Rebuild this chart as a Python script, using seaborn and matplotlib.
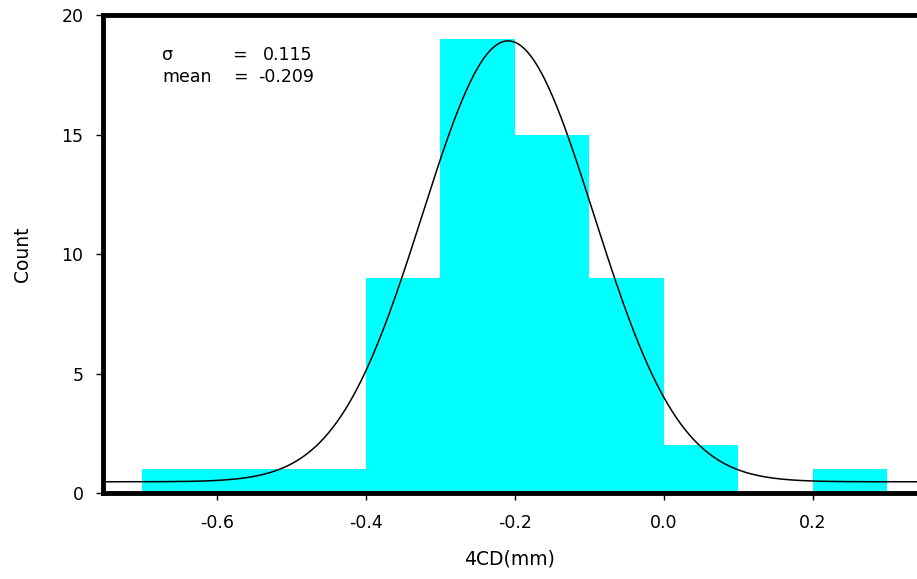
import numpy as np
import pandas as pd
import matplotlib
matplotlib.use("Agg")
import matplotlib.pyplot as plt
import seaborn as sns

# Histogram of 4CD deviations (bin width 0.1 mm)
bin_edges = [-0.7, -0.6, -0.5, -0.4, -0.3, -0.2, -0.1, 0.0, 0.1, 0.2, 0.3]
bin_counts = [1, 1, 1, 9, 19, 15, 9, 2, 0, 1]

# Fitted normal curve parameters
sigma = 0.115
mean = -0.209
curve_amplitude = 18.45
curve_offset = 0.47

x_ticks = [-0.6, -0.4, -0.2, 0.0, 0.2]
x_tick_labels = ["-0.6", "-0.4", "-0.2", "0.0", "0.2"]
y_ticks = [0, 5, 10, 15, 20]

sns.set_theme(style="white")
plt.rcParams["font.family"] = ["DejaVu Sans"]
plt.rcParams["text.color"] = "black"
plt.rcParams["axes.labelcolor"] = "black"

fig = plt.figure(figsize=(9.17, 5.79), dpi=100)
ax = fig.add_axes([0.1123, 0.1485, 0.8877, 0.8255])

centers = [(a + b) / 2 for a, b in zip(bin_edges[:-1], bin_edges[1:])]
df = pd.DataFrame({"x": centers, "count": bin_counts})
sns.histplot(data=df, x="x", weights="count", bins=bin_edges, ax=ax,
             color="#00FFFF", alpha=1.0, linewidth=0, edgecolor=None)

xs = np.linspace(-0.753, 0.34, 600)
ys = curve_offset + curve_amplitude * np.exp(-((xs - mean) ** 2) / (2 * sigma ** 2))
sns.lineplot(x=xs, y=ys, ax=ax, color="black", linewidth=1.1)

ax.set_xlim(-0.753, 0.34)
ax.set_ylim(0, 20)
ax.set_xticks(x_ticks)
ax.set_xticklabels(x_tick_labels)
ax.set_yticks(y_ticks)
ax.tick_params(axis="both", direction="out", length=5, width=1, color="black",
               labelsize=12.5, labelcolor="black")
ax.tick_params(axis="x", pad=10)
ax.tick_params(axis="y", pad=9)
ax.tick_params(bottom=True, left=True)

for side in ["left", "top", "bottom"]:
    ax.spines[side].set_visible(True)
    ax.spines[side].set_linewidth(3.5)
    ax.spines[side].set_color("black")
ax.spines["right"].set_visible(False)

ax.set_xlabel("4CD(mm)", fontsize=13.5, labelpad=13)
ax.set_ylabel("Count", fontsize=13.5, labelpad=21)

# Fit statistics, laid out in two aligned rows
stat_rows = [
    ("σ", 0.1585, f"{sigma:.3f}", 0.1966, 0.906),
    ("mean", 0.1600, f"{mean:.3f}", 0.1900, 0.860),
]
for name, eq_x, value, val_x, y in stat_rows:
    ax.text(0.0725, y, name, transform=ax.transAxes, fontsize=12.5, va="baseline")
    ax.text(eq_x, y, "=", transform=ax.transAxes, fontsize=12.5, va="baseline")
    ax.text(val_x, y, value, transform=ax.transAxes, fontsize=12.5, va="baseline")

fig.savefig("out.png", dpi=100)
